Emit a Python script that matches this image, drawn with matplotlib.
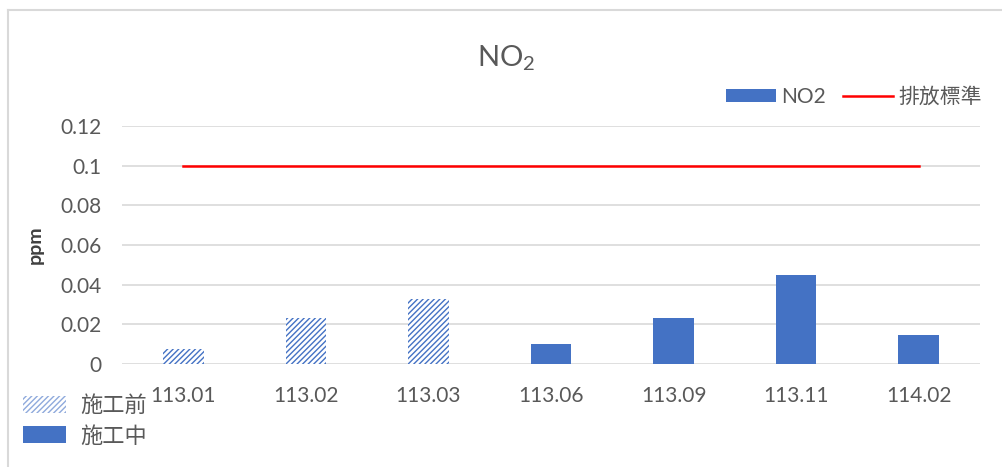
import matplotlib
matplotlib.use("Agg")
import matplotlib.pyplot as plt
from matplotlib.patches import Patch
from matplotlib.lines import Line2D
import numpy as np

plt.rcParams["font.family"] = ["Lato", "Noto Sans CJK TC", "DejaVu Sans"]
plt.rcParams["mathtext.fontset"] = "custom"
plt.rcParams["mathtext.rm"] = "Lato"
plt.rcParams["hatch.linewidth"] = 1.0

# ─── Data ─────────────────────────────────────────────────────────────────────
categories = ["113.01", "113.02", "113.03", "113.06", "113.09", "113.11", "114.02"]
no2_values = [0.0075, 0.023, 0.033, 0.010, 0.023, 0.045, 0.0145]
before_mask = [True, True, True, False, False, False, False]  # 施工前 / 施工中
standard = 0.1
yticks = [0, 0.02, 0.04, 0.06, 0.08, 0.1, 0.12]
ytick_labels = ["0", "0.02", "0.04", "0.06", "0.08", "0.1", "0.12"]

BLUE = "#4472C4"
RED = "#FF0000"
GRID = "#D9D9D9"
TEXT = "#595959"

fig = plt.figure(figsize=(10.02, 4.67), dpi=100)
ax = fig.add_axes([0.1218, 0.2206, 0.8562, 0.5094])

x = np.arange(len(categories))
for xi, val, before in zip(x, no2_values, before_mask):
    if before:
        ax.bar(xi, val, width=0.33, facecolor="white", edgecolor=BLUE,
               linewidth=0, hatch="//////", zorder=3)
    else:
        ax.bar(xi, val, width=0.33, color=BLUE, linewidth=0, zorder=3)

ax.plot([x[0], x[-1]], [standard, standard], color=RED, linewidth=1.8, zorder=4)

ax.set_xlim(-0.5, len(categories) - 0.5)
ax.set_ylim(0, 0.12)
ax.set_yticks(yticks)
ax.set_yticklabels(ytick_labels)
ax.set_xticks(x)
ax.set_xticklabels(categories)
ax.tick_params(axis="both", length=0, labelsize=15, colors=TEXT)
ax.tick_params(axis="y", pad=15)
ax.tick_params(axis="x", pad=16)
ax.grid(axis="y", color=GRID, linewidth=1.2, zorder=0)
for sp in ax.spines.values():
    sp.set_visible(False)
ax.set_ylabel("ppm", fontsize=14, fontweight="bold", color="#404040", labelpad=12)

fig.text(0.505, 0.876, "NO$_2$", ha="center", va="center", fontsize=21, color=TEXT)

# ─── Legends ──────────────────────────────────────────────────────────────────
top_handles = [Patch(facecolor=BLUE, edgecolor="none"),
               Line2D([0], [0], color=RED, linewidth=1.8)]
fig.legend(top_handles, ["NO2", "排放標準"], loc="center right",
           bbox_to_anchor=(0.99, 0.793), ncol=2, frameon=False, borderpad=0,
           fontsize=15, handlelength=2.4, handleheight=0.6,
           columnspacing=0.8, handletextpad=0.25, labelcolor=TEXT)

bot_handles = [Patch(facecolor="white", edgecolor="#8FAADC", linewidth=0, hatch="//////"),
               Patch(facecolor=BLUE, edgecolor="none")]
fig.legend(bot_handles, ["施工前", "施工中"], loc="upper left",
           bbox_to_anchor=(0.012, 0.178), frameon=False, borderpad=0,
           fontsize=16, handlelength=1.95, handleheight=0.8,
           handletextpad=0.63, labelspacing=0.45, labelcolor=TEXT)

# ─── Chart border (top and left only visible) ─────────────────────────────────
fig.add_artist(Line2D([0.0075, 1.0], [0.979, 0.979], transform=fig.transFigure,
                      color=GRID, linewidth=1.5))
fig.add_artist(Line2D([0.0075, 0.0075], [0.0, 0.979], transform=fig.transFigure,
                      color=GRID, linewidth=1.5))

fig.savefig("out.png", dpi=100)
